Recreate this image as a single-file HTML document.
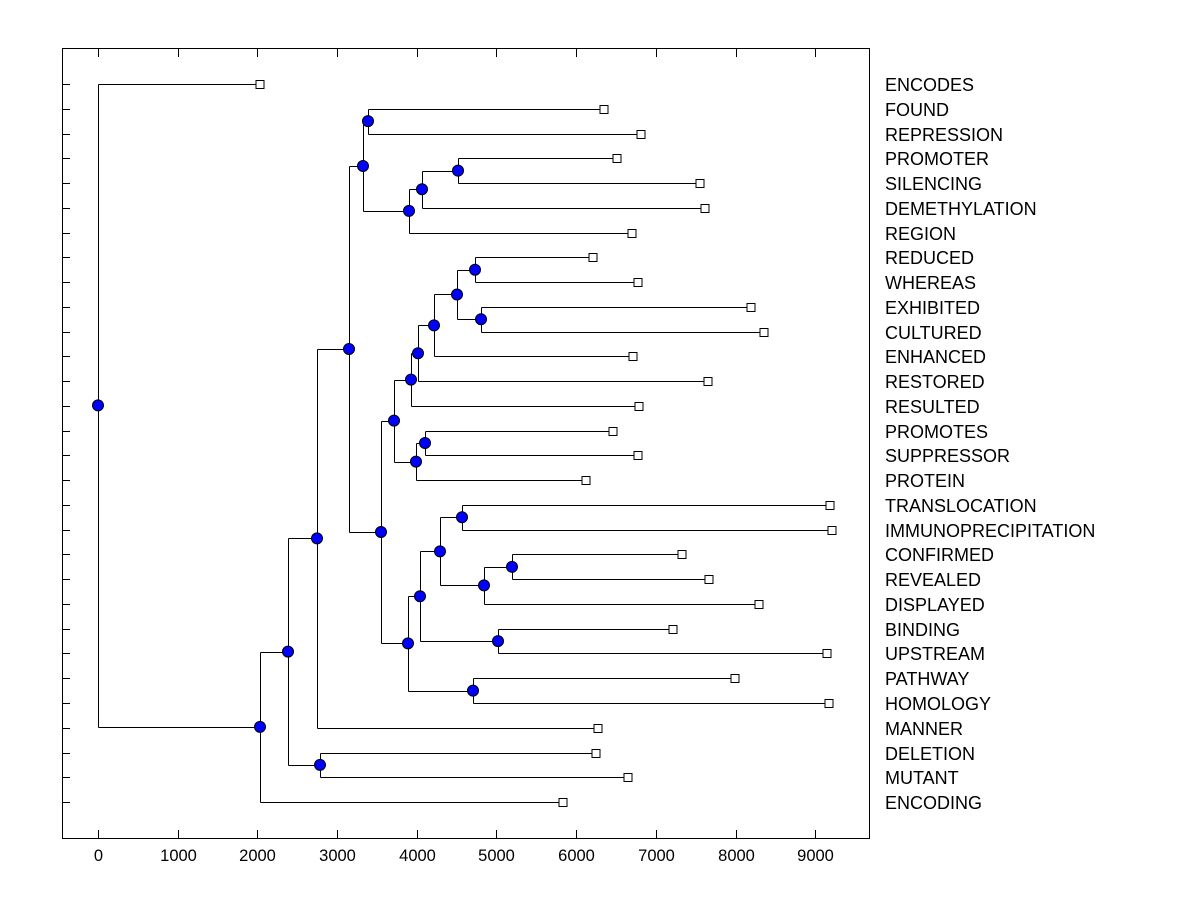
<!DOCTYPE html>
<html><head><meta charset="utf-8"><style>
html,body{margin:0;padding:0;background:#fff;}
svg text{font-family:"Liberation Sans",Arial,sans-serif;}
</style></head><body>
<svg id="s" width="1200" height="900" xmlns="http://www.w3.org/2000/svg"></svg>
<script>
const names=["ENCODES","FOUND","REPRESSION","PROMOTER","SILENCING","DEMETHYLATION","REGION","REDUCED","WHEREAS","EXHIBITED","CULTURED","ENHANCED","RESTORED","RESULTED","PROMOTES","SUPPRESSOR","PROTEIN","TRANSLOCATION","IMMUNOPRECIPITATION","CONFIRMED","REVEALED","DISPLAYED","BINDING","UPSTREAM","PATHWAY","HOMOLOGY","MANNER","DELETION","MUTANT","ENCODING"];
const lx=[260,604,641,617,700,705,632,593,638,751,764,633,708,639,613,638,586,830,832,682,709,759,673,827,735,829,598,596,628,563];
const rowY=i=>84+i*24.76;
const N={};
names.forEach((n,i)=>N[n]={x:lx[i],y:rowY(i),leaf:true});
function node(k,x,a,b){const A=N[a],B=N[b];N[k]={x:x,y:(A.y+B.y)/2,c:[A,B]};}
node("A",368,"FOUND","REPRESSION");
node("B",458,"PROMOTER","SILENCING");
node("C",422,"B","DEMETHYLATION");
node("D",409,"C","REGION");
node("E",363,"A","D");
node("F",475,"REDUCED","WHEREAS");
node("G",481,"EXHIBITED","CULTURED");
node("H",457,"F","G");
node("I",434,"H","ENHANCED");
node("J",418,"I","RESTORED");
node("K",411,"J","RESULTED");
node("L",425,"PROMOTES","SUPPRESSOR");
node("M",416,"L","PROTEIN");
node("Nn",394,"K","M");
node("O",462,"TRANSLOCATION","IMMUNOPRECIPITATION");
node("P",512,"CONFIRMED","REVEALED");
node("Q",484,"P","DISPLAYED");
node("R",440,"O","Q");
node("S",498,"BINDING","UPSTREAM");
node("T",420,"R","S");
node("U",473,"PATHWAY","HOMOLOGY");
node("V",408,"T","U");
node("W",381,"Nn","V");
node("X",349,"E","W");
node("Y",317,"X","MANNER");
node("Z",320,"DELETION","MUTANT");
node("AA",288,"Y","Z");
node("BB",260,"AA","ENCODING");
node("ROOT",98,"ENCODES","BB");
let h='';
h+='<rect x="62.5" y="48.5" width="807" height="790" fill="none" stroke="#000" stroke-width="1"/>';
for(let v=0;v<=9000;v+=1000){const x=Math.round(98+v*0.0797)+0.5;
 h+=`<line x1="${x}" y1="838" x2="${x}" y2="830" stroke="#000"/><line x1="${x}" y1="49" x2="${x}" y2="57" stroke="#000"/>`;
 h+=`<text x="${x}" y="861" font-size="16.5" text-anchor="middle">${v}</text>`;}
let lines='',marks='';
names.forEach((n,i)=>{const y=Math.round(rowY(i))+0.5;
 h+=`<line x1="62" y1="${y}" x2="70" y2="${y}" stroke="#000"/>`;
 h+=`<text x="885" y="${y+6.5}" font-size="18">${n}</text>`;});
for(const k in N){const n=N[k];if(n.leaf)continue;
 const [a,b]=n.c;const x=Math.round(n.x)+0.5;
 lines+=`<line x1="${x}" y1="${Math.round(a.y)+0.5}" x2="${x}" y2="${Math.round(b.y)+0.5}" stroke="#000"/>`;
 for(const c of [a,b]) lines+=`<line x1="${x}" y1="${Math.round(c.y)+0.5}" x2="${c.x}" y2="${Math.round(c.y)+0.5}" stroke="#000"/>`;
 marks+=`<circle cx="${n.x}" cy="${n.y}" r="5.5" fill="#0000ff" stroke="#000" stroke-width="1"/>`;}
names.forEach(n=>{const o=N[n];marks+=`<rect x="${o.x-4}" y="${Math.round(o.y)-3.5}" width="8" height="8" fill="#fff" stroke="#000"/>`;});
document.getElementById('s').innerHTML=h+lines+marks;
</script>
</body></html>
